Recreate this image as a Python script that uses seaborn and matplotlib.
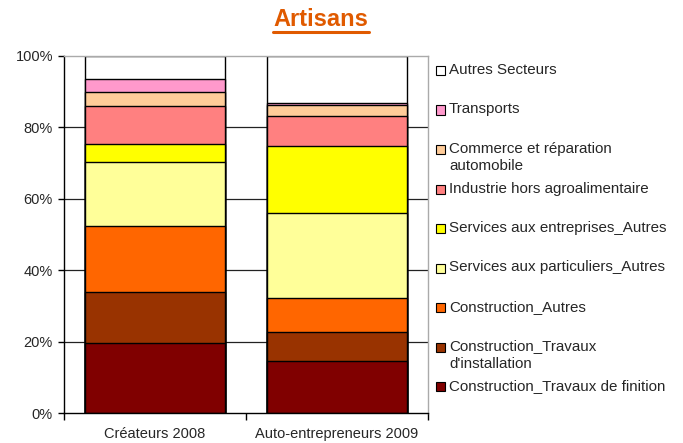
import numpy as np
import pandas as pd
import matplotlib
matplotlib.use("Agg")
import matplotlib.pyplot as plt
from matplotlib.patches import Rectangle
import seaborn as sns

# data (percent of each group)
groups = ["Créateurs 2008", "Auto-entrepreneurs 2009"]
sectors = [
    "Construction_Travaux de finition",
    "Construction_Travaux\nd'installation",
    "Construction_Autres",
    "Services aux particuliers_Autres",
    "Services aux entreprises_Autres",
    "Industrie hors agroalimentaire",
    "Commerce et réparation\nautomobile",
    "Transports",
    "Autres Secteurs",
]
createurs_2008 = [19.7, 14.2, 18.5, 17.8, 5.1, 10.6, 3.9, 3.6, 6.6]
auto_entrepreneurs_2009 = [14.5, 8.2, 9.5, 23.7, 18.8, 8.4, 3.0, 0.6, 13.3]
colors = ["#800000", "#993300", "#FF6600", "#FFFF99", "#FFFF00",
          "#FF8080", "#FFCC99", "#FF99CC", "#FFFFFF"]

sns.set_style("white")
plt.rcParams["font.family"] = ["Liberation Sans", "DejaVu Sans"]

df = pd.DataFrame({
    "sector": sectors * 2,
    "group": [groups[0]] * len(sectors) + [groups[1]] * len(sectors),
    "value": createurs_2008 + auto_entrepreneurs_2009,
})
# cumulative height per group for stacking
df["cum"] = df.groupby("group")["value"].cumsum()
df["cum"] = df["cum"] / df.groupby("group")["value"].transform("sum") * 100

fig = plt.figure(figsize=(6.83, 4.43), dpi=100)
ax = fig.add_axes([0.0937, 0.0677, 0.5329, 0.8063])

# draw the tallest cumulative bars first, then the lower ones on top
for sector, color in reversed(list(zip(sectors, colors))):
    sub = df[df["sector"] == sector]
    sns.barplot(data=sub, x="group", y="cum", order=groups, color=color,
                saturation=1, width=0.77, edgecolor="black", linewidth=1,
                ax=ax, errorbar=None)

ax.set_ylim(0, 100)
ax.set_xlim(-0.5, 1.5)
ax.set_yticks(np.arange(0, 101, 20))
ax.set_yticklabels([f"{v}%" for v in range(0, 101, 20)], fontsize=10.5)
ax.set_xlabel("")
ax.set_ylabel("")
ax.tick_params(axis="y", length=4, width=1, color="black", pad=4, left=True)
ax.tick_params(axis="x", which="major", length=0, pad=10, labelsize=10.5)
ax.set_xticks([-0.5, 0.5, 1.5], minor=True)
ax.tick_params(axis="x", which="minor", length=5, width=1, color="black", bottom=True)
for y in range(20, 100, 20):
    ax.axhline(y, color="#222222", linewidth=0.9, zorder=0)
ax.set_axisbelow(True)
for side in ["left", "bottom"]:
    ax.spines[side].set_color("black")
    ax.spines[side].set_linewidth(1)
for side in ["top", "right"]:
    ax.spines[side].set_color("#AAAAAA")
    ax.spines[side].set_linewidth(1)

# title, underlined
fig.text(0.47, 0.955, "Artisans", ha="center", va="center", fontsize=17,
         fontweight="bold", color="#E05A00")
fig.add_artist(plt.Line2D([273 / 683, 369 / 683], [1 - 31.5 / 443] * 2,
                          color="#E05A00", linewidth=2.2))

# legend, top entry first, evenly spaced first lines
for i, (sector, color) in enumerate(reversed(list(zip(sectors, colors)))):
    ypix = 70 + i * 39.5
    yf = 1 - ypix / 443
    fig.add_artist(Rectangle((436 / 683, 1 - (ypix + 5) / 443), 9 / 683, 9 / 443,
                             facecolor=color, edgecolor="black", linewidth=0.8))
    fig.text(449 / 683, yf, sector.split("\n")[0], ha="left", va="center", fontsize=10.9)
    if "\n" in sector:
        fig.text(449 / 683, 1 - (ypix + 17) / 443, sector.split("\n")[1],
                 ha="left", va="center", fontsize=10.9)

fig.savefig("out.png", dpi=100)
